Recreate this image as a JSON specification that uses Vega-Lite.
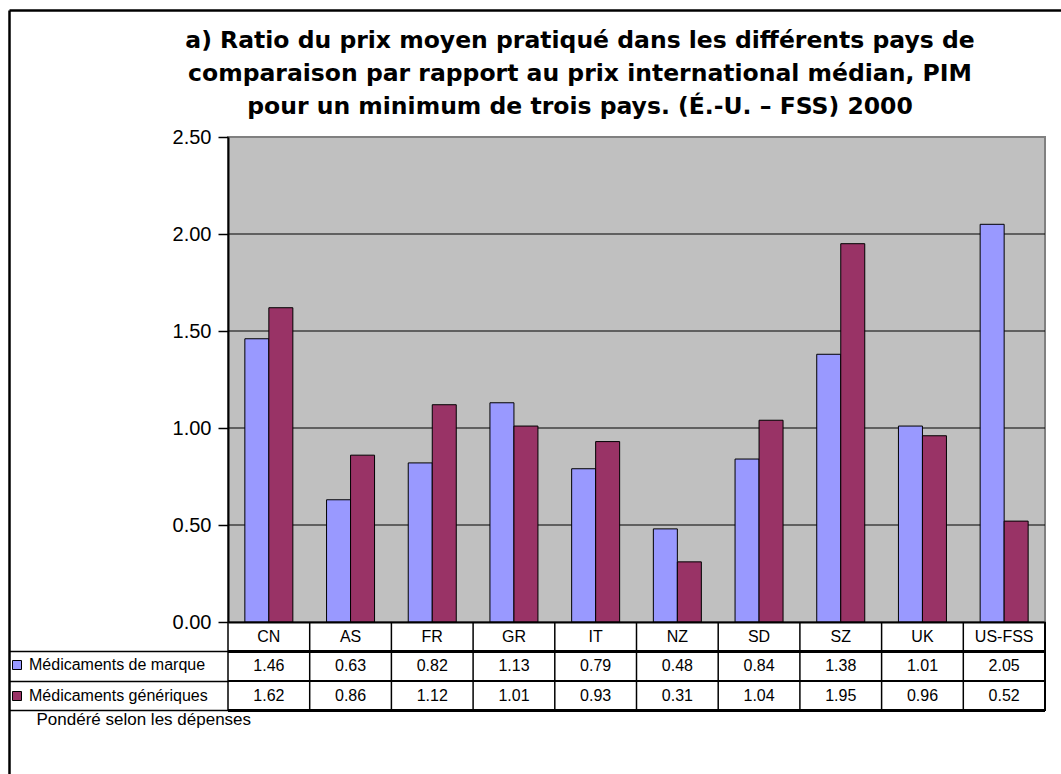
{
  "$schema": "https://vega.github.io/schema/vega-lite/v6.json",
  "width": 1052,
  "height": 764,
  "autosize": {"type": "none"},
  "padding": {"left": 9, "top": 10, "right": 0, "bottom": 0},
  "background": "white",
  "view": {"stroke": "transparent", "strokeWidth": 0, "fill": null},
  "config": {
    "view": {"stroke": "transparent", "strokeWidth": 0},
    "font": "Liberation Sans",
    "text": {"font": "Liberation Sans"}
  },
  "title": {
    "text": ["a) Ratio du prix moyen pratiqué dans les différents pays de", "comparaison par rapport au prix international médian, PIM", "pour un minimum de trois pays. (É.-U. – FSS) 2000"],
    "font": "DejaVu Sans",
    "fontSize": 23.5,
    "fontWeight": "bold",
    "color": "black",
    "anchor": "middle",
    "frame": "group",
    "lineHeight": 33,
    "offset": -108,
    "dx": 45
  },
  "data": {
    "values": [
      {"pays": "CN", "serie": "Médicaments de marque", "valeur": 1.46},
      {"pays": "AS", "serie": "Médicaments de marque", "valeur": 0.63},
      {"pays": "FR", "serie": "Médicaments de marque", "valeur": 0.82},
      {"pays": "GR", "serie": "Médicaments de marque", "valeur": 1.13},
      {"pays": "IT", "serie": "Médicaments de marque", "valeur": 0.79},
      {"pays": "NZ", "serie": "Médicaments de marque", "valeur": 0.48},
      {"pays": "SD", "serie": "Médicaments de marque", "valeur": 0.84},
      {"pays": "SZ", "serie": "Médicaments de marque", "valeur": 1.38},
      {"pays": "UK", "serie": "Médicaments de marque", "valeur": 1.01},
      {"pays": "US-FSS", "serie": "Médicaments de marque", "valeur": 2.05},
      {"pays": "CN", "serie": "Médicaments génériques", "valeur": 1.62},
      {"pays": "AS", "serie": "Médicaments génériques", "valeur": 0.86},
      {"pays": "FR", "serie": "Médicaments génériques", "valeur": 1.12},
      {"pays": "GR", "serie": "Médicaments génériques", "valeur": 1.01},
      {"pays": "IT", "serie": "Médicaments génériques", "valeur": 0.93},
      {"pays": "NZ", "serie": "Médicaments génériques", "valeur": 0.31},
      {"pays": "SD", "serie": "Médicaments génériques", "valeur": 1.04},
      {"pays": "SZ", "serie": "Médicaments génériques", "valeur": 1.95},
      {"pays": "UK", "serie": "Médicaments génériques", "valeur": 0.96},
      {"pays": "US-FSS", "serie": "Médicaments génériques", "valeur": 0.52}
    ]
  },
  "resolve": {
    "scale": {"x": "independent", "y": "independent"},
    "axis": {"x": "independent", "y": "independent"}
  },
  "layer": [
    {
      "data": {"values": [{"cadre": 1}]},
      "mark": {"type": "point", "opacity": 0},
      "encoding": {
        "x": {
          "datum": 0,
          "type": "quantitative",
          "scale": {"domain": [0, 1], "nice": false, "zero": false},
          "axis": {"orient": "top", "offset": 0, "title": null, "labels": false, "ticks": false, "grid": false, "domainColor": "black", "domainWidth": 2.5}
        },
        "y": {
          "datum": 0,
          "type": "quantitative",
          "scale": {"domain": [-0.7835, 3.1546], "nice": false, "zero": false},
          "axis": {"orient": "left", "offset": 0, "title": null, "labels": false, "values": [-0.152, -0.304, -0.456], "ticks": true, "tickSize": -219, "tickColor": "black", "tickWidth": 1.5, "grid": false, "domainColor": "black", "domainWidth": 2.5}
        }
      }
    },
    {
      "layer": [
        {
          "data": {"values": [{"zone": "tracé"}]},
          "mark": {"type": "rect", "fill": "#C0C0C0", "stroke": "#808080", "strokeWidth": 2},
          "encoding": {
            "x": {"datum": "CN", "bandPosition": 0},
            "x2": {"datum": "US-FSS", "bandPosition": 1},
            "y": {"datum": 0},
            "y2": {"datum": 2.5}
          }
        },
        {
          "data": {"values": [{"g": 0.5}, {"g": 1}, {"g": 1.5}, {"g": 2}]},
          "mark": {"type": "rule", "color": "black", "strokeWidth": 1},
          "encoding": {
            "y": {"field": "g", "type": "quantitative"},
            "x": {"datum": "CN", "bandPosition": 0},
            "x2": {"datum": "US-FSS", "bandPosition": 1}
          }
        },
        {
          "mark": {"type": "bar", "stroke": "black", "strokeWidth": 1},
          "encoding": {
            "x": {
              "field": "pays",
              "type": "nominal",
              "sort": null,
              "scale": {"type": "band", "domain": ["CN", "AS", "FR", "GR", "IT", "NZ", "SD", "SZ", "UK", "US-FSS"], "range": [219, 1036], "paddingInner": 0, "paddingOuter": 0},
              "axis": {
                "orient": "bottom",
                "offset": -152,
                "title": "Pondéré selon les dépenses",
                "titleX": 27,
                "titleY": 102,
                "titleAlign": "left",
                "titleAnchor": "start",
                "titleBaseline": "alphabetic",
                "titleFont": "Liberation Sans",
                "titleFontSize": 17,
                "titleFontWeight": "normal",
                "titleColor": "black",
                "ticks": false,
                "bandPosition": 0.5,
                "labelAngle": 0,
                "labelAlign": "center",
                "labelFont": "Liberation Sans",
                "labelFontSize": 16,
                "labelColor": "black",
                "labelPadding": 14,
                "domainColor": "black",
                "domainWidth": 2,
                "grid": false,
                "zindex": 1
              }
            },
            "xOffset": {
              "field": "serie",
              "type": "nominal",
              "scale": {"domain": ["Médicaments de marque", "Médicaments génériques"], "paddingInner": 0, "paddingOuter": 0.702}
            },
            "y": {
              "field": "valeur",
              "type": "quantitative",
              "scale": {"domain": [0, 2.5], "range": [612, 127], "nice": false, "zero": false},
              "axis": {
                "orient": "left",
                "offset": -219,
                "title": null,
                "values": [0, 0.5, 1, 1.5, 2, 2.5],
                "format": ".2f",
                "tickSize": 10,
                "tickColor": "black",
                "tickWidth": 1.5,
                "domainColor": "black",
                "domainWidth": 2,
                "labelFont": "Liberation Sans",
                "labelFontSize": 20,
                "labelColor": "black",
                "labelPadding": 7,
                "grid": false,
                "zindex": 1
              }
            },
            "color": {
              "field": "serie",
              "type": "nominal",
              "scale": {"domain": ["Médicaments de marque", "Médicaments génériques"], "range": ["#9999FF", "#993366"]},
              "legend": {
                "orient": "none",
                "legendX": 0,
                "legendY": 647,
                "title": null,
                "direction": "vertical",
                "symbolType": "square",
                "symbolSize": 81,
                "symbolStrokeColor": "black",
                "symbolStrokeWidth": 1,
                "symbolOpacity": 1,
                "labelFont": "Liberation Sans",
                "labelFontSize": 16,
                "labelColor": "black",
                "labelLimit": 300,
                "labelOffset": 4,
                "rowPadding": 15,
                "padding": 0
              }
            }
          }
        },
        {
          "mark": {"type": "rule", "color": "black", "strokeWidth": 1.5},
          "encoding": {"y": {"datum": -0.152}, "x": {"datum": "CN", "bandPosition": 0}, "x2": {"datum": "US-FSS", "bandPosition": 1}}
        },
        {
          "mark": {"type": "rule", "color": "black", "strokeWidth": 1.5},
          "encoding": {"y": {"datum": -0.304}, "x": {"datum": "CN", "bandPosition": 0}, "x2": {"datum": "US-FSS", "bandPosition": 1}}
        },
        {
          "mark": {"type": "rule", "color": "black", "strokeWidth": 1.5},
          "encoding": {"y": {"datum": -0.456}, "x": {"datum": "CN", "bandPosition": 0}, "x2": {"datum": "US-FSS", "bandPosition": 1}}
        },
        {
          "transform": [{"filter": "datum.serie === 'Médicaments de marque'"}],
          "mark": {"type": "rule", "color": "black", "strokeWidth": 1.5},
          "encoding": {"x": {"field": "pays", "type": "nominal", "bandPosition": 0}, "y": {"datum": 0}, "y2": {"datum": -0.456}}
        },
        {
          "mark": {"type": "rule", "color": "black", "strokeWidth": 1.5},
          "encoding": {"x": {"datum": "US-FSS", "bandPosition": 1}, "y": {"datum": 0}, "y2": {"datum": -0.456}}
        },
        {
          "transform": [{"filter": "datum.serie === 'Médicaments de marque'"}],
          "mark": {"type": "text", "fontSize": 16, "baseline": "middle", "align": "center", "color": "black"},
          "encoding": {"x": {"field": "pays", "type": "nominal"}, "y": {"datum": -0.229}, "text": {"field": "valeur", "type": "quantitative", "format": ".2f"}}
        },
        {
          "transform": [{"filter": "datum.serie === 'Médicaments génériques'"}],
          "mark": {"type": "text", "fontSize": 16, "baseline": "middle", "align": "center", "color": "black"},
          "encoding": {"x": {"field": "pays", "type": "nominal"}, "y": {"datum": -0.381}, "text": {"field": "valeur", "type": "quantitative", "format": ".2f"}}
        }
      ]
    }
  ]
}
